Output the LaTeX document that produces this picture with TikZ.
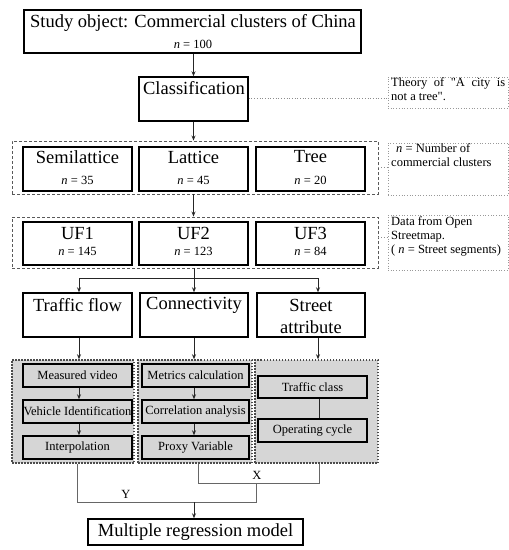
\documentclass[tikz,border=0pt]{standalone}
\usepackage{fontspec}
\setmainfont{Liberation Serif}
\usetikzlibrary{arrows.meta,fit}
\newcommand\bigf{\fontsize{18.5}{22}\selectfont}
\newcommand\smallf{\fontsize{12.5}{14}\selectfont}
\newcommand\rbox[6]{\node[#1, fit={(#3,#4) (#5,#6)}] (#2) {};}
\begin{document}
\begin{tikzpicture}[x=1pt,y=-1pt,
  box/.style={draw=black, line width=1.4pt, inner sep=0pt},
  grp/.style={draw=black!65, line width=0.9pt, dash pattern=on 3pt off 2pt, inner sep=0pt},
  gbox/.style={fill=black!16, draw=black!70, line width=1.5pt, dash pattern=on 1.5pt off 1.5pt, inner sep=0pt},
  sbox/.style={fill=black!16, draw=black, line width=1.4pt, inner sep=0pt},
  notebox/.style={draw=black!40, line width=0.7pt, dotted, inner sep=0pt},
  bigt/.style={font=\bigf, inner sep=0pt},
  smallt/.style={font=\smallf, inner sep=0pt},
  arr/.style={draw=black!85, line width=0.8pt, -{Stealth[length=5pt,width=4pt]}},
  ln/.style={draw=black!85, line width=0.8pt},
  cl/.style={draw=black!60, line width=0.9pt},
  nl/.style={draw=black!45, line width=0.7pt, dotted}]
\useasboundingbox (0,0) rectangle (509,550);

% top
\rbox{box}{top}{24}{10}{361}{53}
\node[bigt] (ttl) at (193,23) {Study object: Commercial clusters of China};
\node[smallt] (tn) at (193,44) {\textit{n} = 100};

\rbox{box}{cls}{139}{77}{248}{121}
\node[bigt] (clst) at (194,88) {Classification};
\draw[arr] (cls.north |- top.south) -- (cls.north);

% group 1
\rbox{grp}{grp1}{12}{141}{378}{194}
\draw[arr] (cls.south) -- (cls.south |- grp1.north);
\rbox{box}{semi}{23}{147}{132}{191}
\rbox{box}{lat}{139}{147}{248}{191}
\rbox{box}{tree}{256}{147}{365}{191}
\node[bigt] (semit) at (77.5,157) {Semilattice};
\node[smallt] (semin) at (77.5,180) {\textit{n} = 35};
\node[bigt] (latt) at (193.5,157) {Lattice};
\node[smallt] (latn) at (193.5,180) {\textit{n} = 45};
\node[bigt] (treet) at (310.5,157) {Tree};
\node[smallt] (treen) at (310.5,180) {\textit{n} = 20};

% group 2
\rbox{grp}{grp2}{12}{217}{378}{268}
\draw[arr] (cls.south |- grp1.south) -- (cls.south |- grp2.north);
\rbox{box}{uf1}{23}{222}{132}{265}
\rbox{box}{uf2}{139}{222}{248}{265}
\rbox{box}{uf3}{256}{222}{365}{265}
\node[bigt] (uf1t) at (77.5,233) {UF1};
\node[smallt] (uf1n) at (77.5,251) {\textit{n} = 145};
\node[bigt] (uf2t) at (193.5,233) {UF2};
\node[smallt] (uf2n) at (193.5,251) {\textit{n} = 123};
\node[bigt] (uf3t) at (310.5,233) {UF3};
\node[smallt] (uf3n) at (310.5,251) {\textit{n} = 84};

% row 3
\rbox{box}{tf}{23}{293}{132}{337}
\rbox{box}{cf}{140}{293}{248}{337}
\rbox{box}{sa}{257}{293}{365}{337}
\node[bigt] (tft) at (77.5,305) {Traffic flow};
\node[bigt] (cft) at (194,305) {Connectivity};
\node[bigt] (sat1) at (311,305) {Street};
\node[bigt] (sat2) at (311,327) {attribute};

\coordinate (bl) at (79,278);
\coordinate (brr) at (318,278);
\draw[arr] (cf.north |- grp2.south) -- (cf.north);
\draw[ln] (bl) -- (brr);
\draw[arr] (bl) -- (tf.north -| bl);
\draw[arr] (brr) -- (sa.north -| brr);

% gray groups
\rbox{gbox}{g1}{12}{360}{134}{463}
\rbox{gbox}{g2}{138}{360}{252}{463}
\rbox{gbox}{g3}{255}{360}{378}{463}
\draw[arr] (tf.south -| bl) -- (g1.north -| bl);
\draw[arr] (cf.south) -- (cf.south |- g2.north);
\draw[arr] (sa.south -| brr) -- (g3.north -| brr);

\rbox{sbox}{mv}{23}{364}{132}{387}
\rbox{sbox}{vi}{23}{400}{132}{423}
\rbox{sbox}{ip}{23}{436}{132}{459}
\node[smallt] (mvt) at (77.5,375.5) {Measured video};
\node[smallt] (vit) at (77.5,411.5) {Vehicle Identification};
\node[smallt] (ipt) at (77.5,447.5) {Interpolation};
\draw[arr] (mv.south -| bl) -- (vi.north -| bl);
\draw[arr] (vi.south -| bl) -- (ip.north -| bl);

\rbox{sbox}{mc}{142}{364}{249}{387}
\rbox{sbox}{ca}{142}{400}{249}{423}
\rbox{sbox}{pv}{142}{436}{249}{459}
\node[smallt] (mct) at (195.5,375.5) {Metrics calculation};
\node[smallt] (cat) at (195.5,411.5) {Correlation analysis};
\node[smallt] (pvt) at (195.5,447.5) {Proxy Variable};
\draw[arr] (mc.south -| cf.south) -- (ca.north -| cf.south);
\draw[arr] (ca.south -| cf.south) -- (pv.north -| cf.south);

\rbox{sbox}{tc}{258}{376}{367}{398}
\rbox{sbox}{oc}{258}{419}{367}{442}
\node[smallt] (tct) at (312.5,387) {Traffic class};
\node[smallt] (oct) at (312.5,430.5) {Operating cycle};
\coordinate (xr) at (319,0);
\draw[ln] (tc.south -| xr) -- (oc.north -| xr);

% bottom connectors
\coordinate (xl) at (198,0);
\coordinate (yl) at (77,0);
\coordinate (xj) at (256,483);
\coordinate (yj) at (194,502);
\draw[cl] (g2.south -| xl) |- (xj -| xr) -- (g3.south -| xr);
\draw[cl] (g1.south -| yl) |- (yj -| xj) -- (xj);
\node[smallt] (lx) at (257,475) {X};
\node[smallt] (ly) at (126,494) {Y};

\rbox{box}{mrm}{88}{519}{303}{545}
\node[bigt] (mrmt) at (195.5,532) {Multiple regression model};
\draw[arr] (yj) -- (mrm.north -| yj);

% notes
\rbox{notebox}{th}{388}{77}{508}{108}
\node[smallt, text width=114pt, align=justify, anchor=north west] (tht) at (391,77) {Theory of \textquotedbl A city is not a tree\textquotedbl.};
\coordinate (c1) at (0,98);
\draw[nl] (cls.east |- c1) -- (th.west |- c1);

\rbox{notebox}{nn}{388}{143}{508}{195}
\node[smallt, anchor=north west, align=left] (nnt) at (391,143) {\hspace{5pt}\textit{n} = Number of\\commercial clusters};
\coordinate (c2) at (0,167);
\draw[nl] (grp1.east |- c2) -- (nn.west |- c2);

\rbox{notebox}{ds}{388}{215}{508}{270}
\node[smallt, anchor=north west, align=left] (dst) at (391,216) {Data from Open\\Streetmap.\\( \textit{n} = Street segments)};
\coordinate (c3) at (0,237);
\draw[nl] (grp2.east |- c3) -- (ds.west |- c3);
\end{tikzpicture}
\end{document}
